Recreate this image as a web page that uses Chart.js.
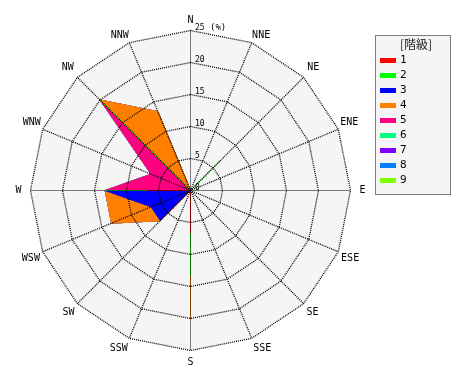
<!DOCTYPE html>
<html>
<head>
<meta charset="utf-8">
<script src="https://cdn.jsdelivr.net/npm/chart.js@4/dist/chart.umd.min.js"></script>
<style>
  html, body { margin: 0; padding: 0; background: #ffffff; }
  canvas { display: block; }
</style>
</head>
<body>
<canvas id="c" width="470" height="380"></canvas>
<script>
// ---- data (frequency in % per speed class and direction) ----
const directions = ['N','NNE','NE','ENE','E','ESE','SE','SSE','S','SSW','SW','WSW','W','WNW','NW','NNW'];
const classNames = ['1','2','3','4','5','6','7','8','9'];
const class1 = [0,0,0,0,0,0,0,0,6.67,0,6.67,0,6.67,0,0,0];
const class2 = [0,0,6.67,0,0,0,0,0,6.67,0,0,0,6.67,0,20,0];
const class3 = [0,0,0,0,0,0,0,0,0,0,0,6.67,0,0,0,0];
const class4 = [0,0,0,0,0,0,0,0,6.67,0,0,6.67,0,0,0,13.33];
const class5 = [0,0,0,0,0,0,0,0,0,0,0,0,0,6.67,0,0];
const class6 = [0,0,0,0,0,0,0,0,0,0,0,0,0,0,0,0];
const class7 = [0,0,0,0,0,0,0,0,0,0,0,0,0,0,0,0];
const class8 = [0,0,0,0,0,0,0,0,0,0,0,0,0,0,0,0];
const class9 = [0,0,0,0,0,0,0,0,0,0,0,0,0,0,0,0];
const tickValues = [0,5,10,15,20,25];
const unitLabel = '(%)';
const legendTitle = '[階級]';

// ---- styles ----
const classColors = ['#ff0000','#00ff00','#0000ff','#ff8000','#ff0080','#00ff80','#8000ff','#0080ff','#80ff00'];
const labelPad = [4,1,5,2,9,3,4,4,6,4,4,3,9,2,5,1];

// cumulative (stacked) values
const perClass = [class1,class2,class3,class4,class5,class6,class7,class8,class9];
const cumulative = [];
perClass.forEach((arr, k) => {
  cumulative.push(arr.map((v, i) => (k ? cumulative[k-1][i] : 0) + v));
});

const datasets = cumulative.map((vals, k) => ({
  label: classNames[k],
  data: vals,
  backgroundColor: classColors[k],
  borderColor: classColors[k],
  borderWidth: 1,
  pointRadius: 0,
  pointHoverRadius: 0,
  fill: 'origin',
  tension: 0
}));

const rosePlugin = {
  id: 'rose',
  beforeDraw(chart) {
    chart.ctx.save();
    chart.ctx.translate(0.5, 0.5);
  },
  beforeDatasetsDraw(chart) {
    const s = chart.scales.r, ctx = chart.ctx;
    ctx.save();
    ctx.beginPath();
    for (let i = 0; i < directions.length; i++) {
      const p = s.getPointPositionForValue(i, s.max);
      if (i === 0) ctx.moveTo(p.x, p.y); else ctx.lineTo(p.x, p.y);
    }
    ctx.closePath();
    ctx.fillStyle = '#f5f5f5';
    ctx.fill();
    ctx.restore();
  },
  afterDraw(chart) {
    const s = chart.scales.r, ctx = chart.ctx;
    // tick labels
    ctx.save();
    ctx.fillStyle = '#000';
    ctx.font = '8px "DejaVu Sans Mono"';
    ctx.textAlign = 'left';
    ctx.textBaseline = 'alphabetic';
    tickValues.forEach(v => {
      const d = s.getDistanceFromCenterForValue(v);
      ctx.fillText(String(v), s.xCenter + 4.5, s.yCenter - d - 0.5);
      if (v === s.max) {
        ctx.font = '9px "DejaVu Sans Mono"';
        ctx.fillText(unitLabel, s.xCenter + 19.5, s.yCenter - d - 0.5);
        ctx.font = '8px "DejaVu Sans Mono"';
      }
    });
    ctx.restore();
    chart.ctx.restore(); // undo half-pixel translate

    // legend
    ctx.save();
    const bx = 375, by = 35, bw = 76, bh = 160;
    ctx.fillStyle = '#f5f5f5';
    ctx.fillRect(bx, by, bw, bh);
    ctx.strokeStyle = '#000';
    ctx.lineWidth = 1;
    ctx.setLineDash([1, 1]);
    ctx.strokeRect(bx + 0.5, by + 0.5, bw - 1, bh - 1);
    ctx.setLineDash([]);
    ctx.fillStyle = '#222';
    ctx.font = '12px "Noto Sans CJK JP"';
    ctx.textAlign = 'center';
    ctx.textBaseline = 'middle';
    ctx.fillText(legendTitle, bx + 41, by + 9);
    ctx.font = '11px "DejaVu Sans Mono"';
    ctx.textAlign = 'left';
    chart.data.datasets.forEach((ds, k) => {
      const y = 60 + 15 * k;
      ctx.fillStyle = ds.backgroundColor;
      ctx.fillRect(380, y - 2, 16, 5);
      ctx.fillStyle = '#000';
      ctx.fillText(ds.label, 400, y + 0.5);
    });
    ctx.restore();
  }
};

new Chart(document.getElementById('c'), {
  type: 'radar',
  data: { labels: directions, datasets },
  options: {
    responsive: false,
    animation: false,
    devicePixelRatio: 1,
    layout: { padding: { left: 12, right: 102, top: 13, bottom: 11 } },
    plugins: { legend: { display: false }, tooltip: { enabled: false } },
    elements: { line: { tension: 0 } },
    scales: {
      r: {
        min: 0,
        max: 25,
        beginAtZero: true,
        ticks: { stepSize: 5, display: false },
        grid: { color: '#000', lineWidth: 1.3, z: 1, borderDash: [1, 1] },
        border: { dash: [1, 1] },
        angleLines: { color: '#000', lineWidth: (c) => (c.index % 4 === 0 ? 1 : 1.3), borderDash: [1, 1] },
        pointLabels: {
          color: '#000',
          font: { family: 'DejaVu Sans Mono', size: 10, lineHeight: 1.2 },
          padding: (c) => labelPad[c.index]
        }
      }
    }
  },
  plugins: [rosePlugin]
});
</script>
</body>
</html>
